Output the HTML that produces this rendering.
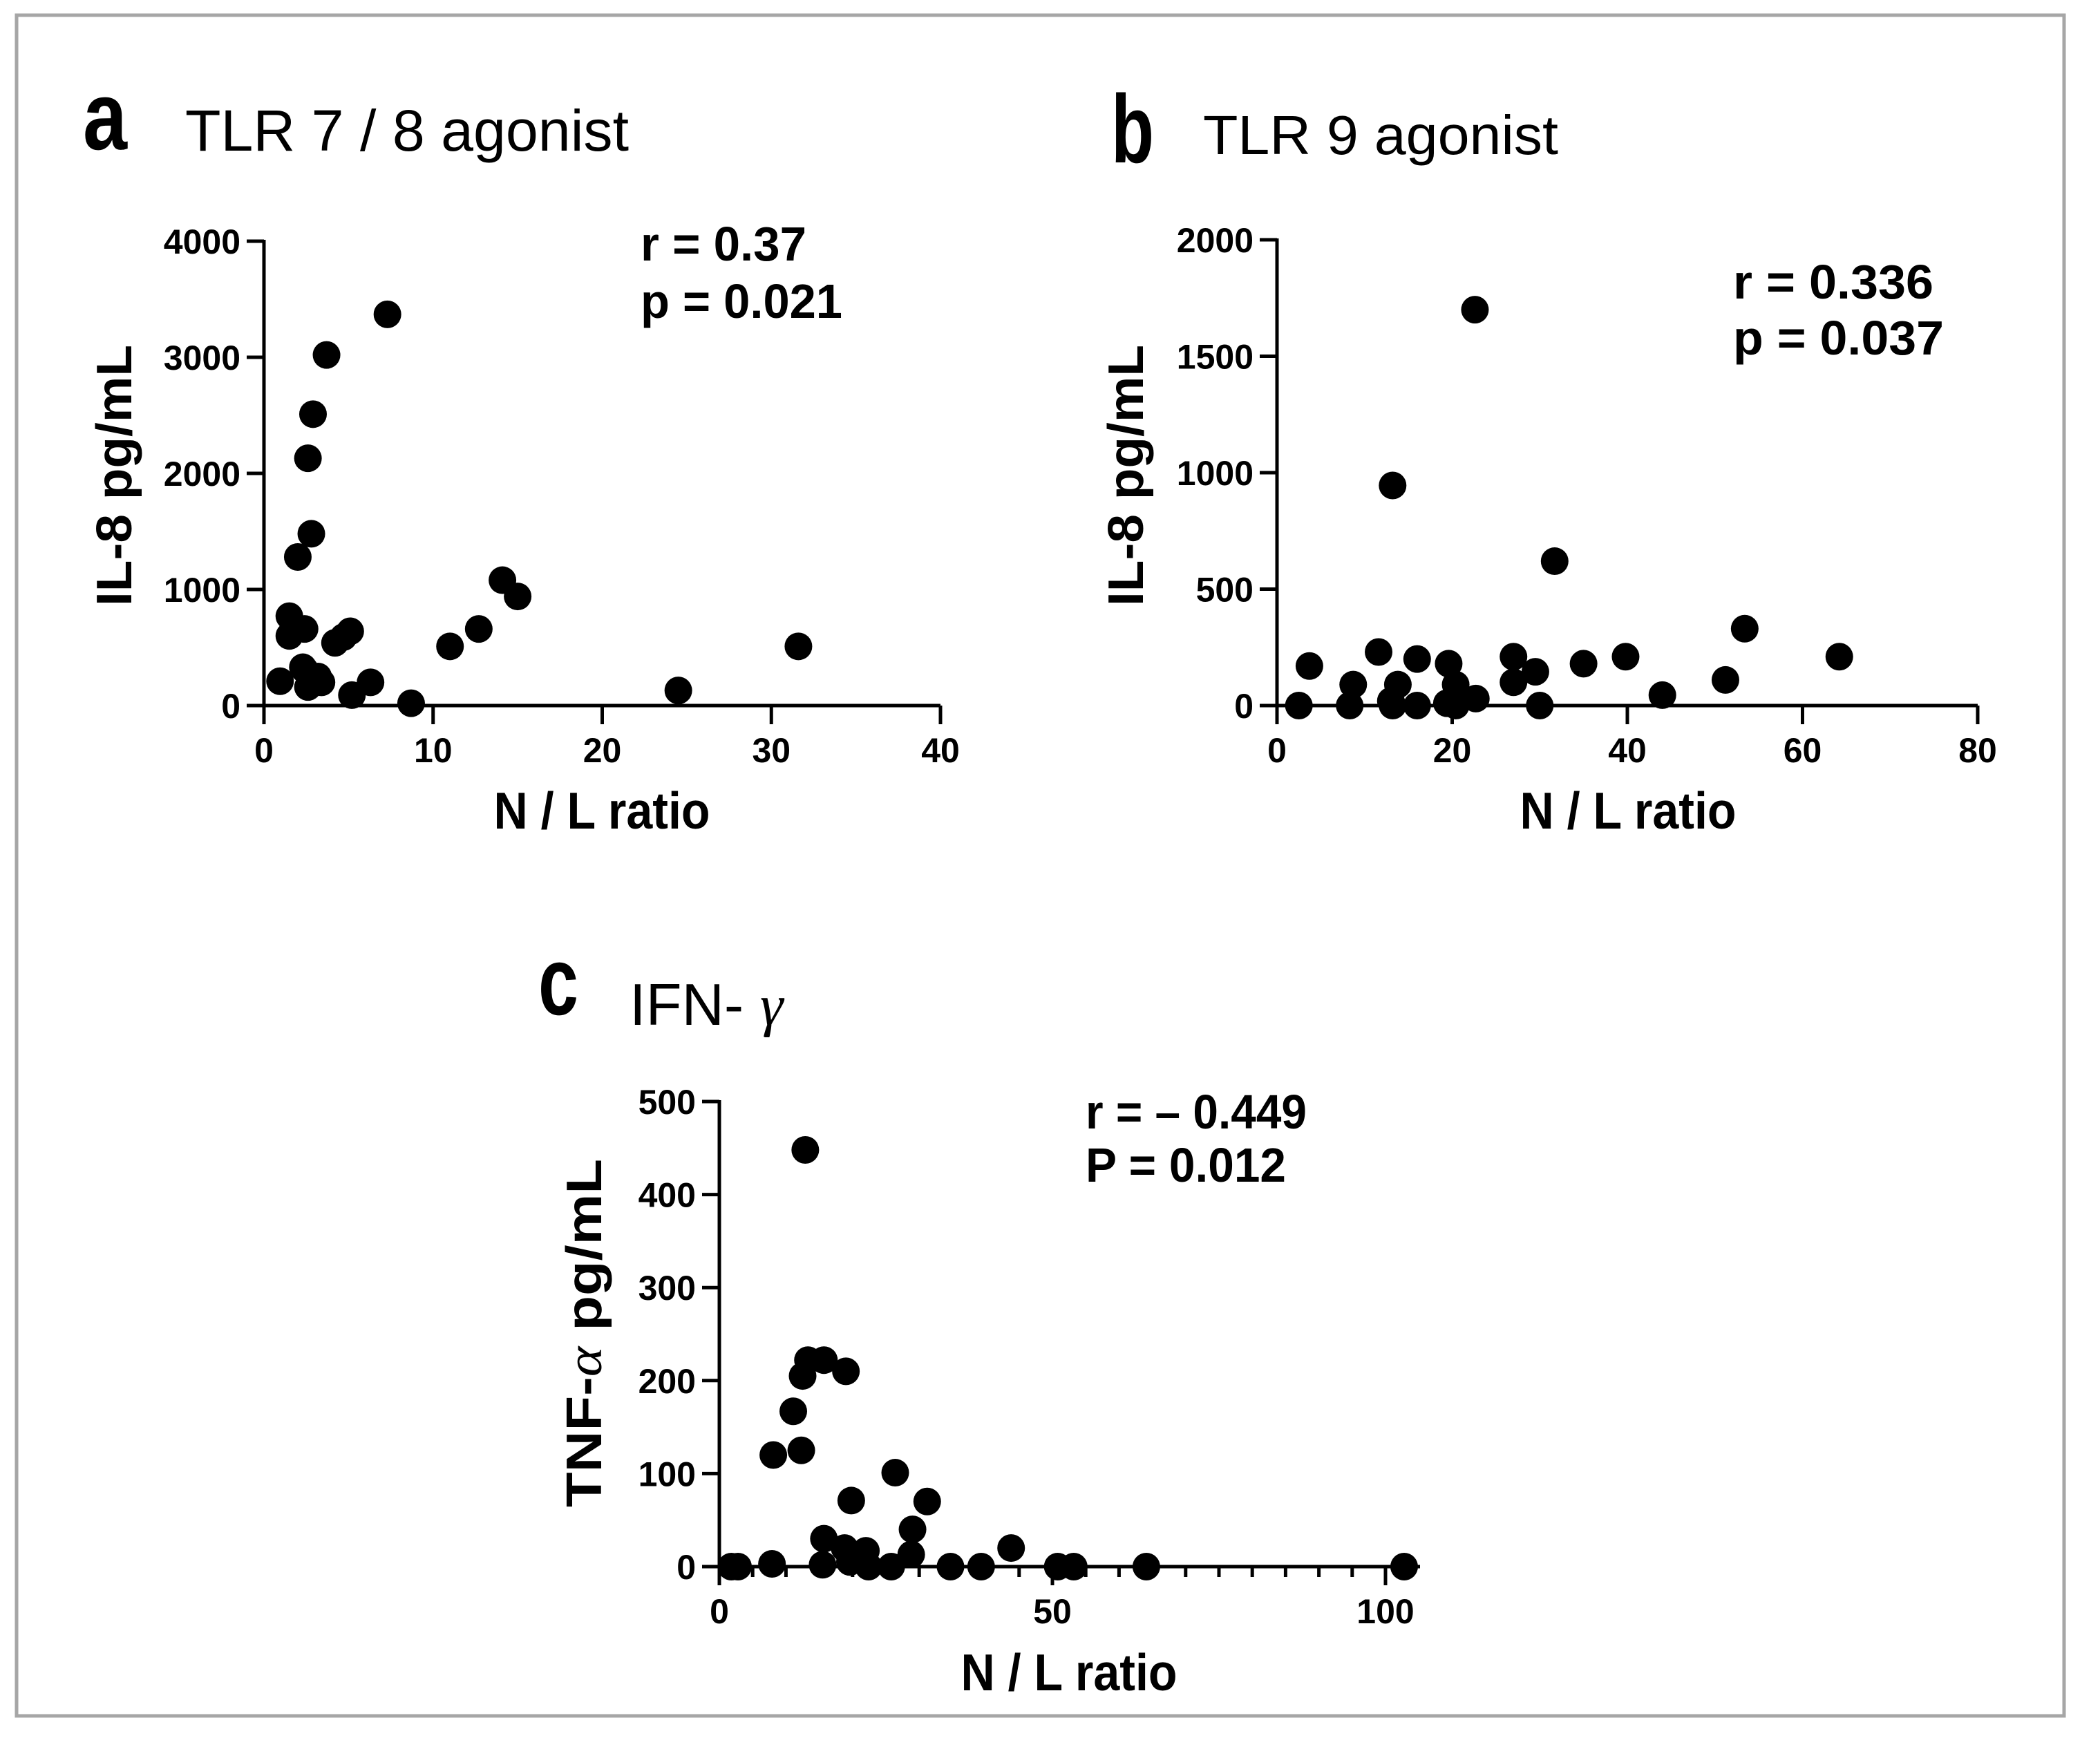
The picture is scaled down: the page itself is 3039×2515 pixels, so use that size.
<!DOCTYPE html>
<html><head><meta charset="utf-8"><style>html,body{margin:0;padding:0;background:#fff}svg{display:block}</style></head>
<body>
<svg id="fig" width="3039" height="2515" viewBox="0 0 3039 2515" xmlns="http://www.w3.org/2000/svg" font-family="'Liberation Sans', sans-serif">
<rect x="24" y="22" width="2963" height="2461" fill="#fff" stroke="#a6a6a6" stroke-width="5"/>
<g id="pa"></g>
<g id="pb"></g>
<g id="pc"></g>
</svg>
<script>
// Panel a data
const aX = [0.95,1.5,1.5,2.0,2.4,2.6,2.8,2.9,3.7,7.3,2.4,2.6,3.2,3.4,4.2,4.7,5.1,5.2,6.3,8.7,11,12.7,14.1,15,24.5,31.6,2.3];
const aY = [210,770,600,1280,660,2130,1480,2510,3020,3370,310,160,250,200,540,590,640,90,200,20,510,660,1080,940,130,510,330];
const aYTicks = [0,1000,2000,3000,4000];
const aXTicks = [0,10,20,30,40];
// Panel b data
const bX = [2.5,3.7,8.7,8.3,11.6,13,13.2,13.8,16,16,19.6,19.4,20.4,20.4,22.6,13.2,22.7,27,27,29.5,30,31.7,35,39.8,44,51.2,53.4,64.2];
const bY = [0,170,90,0,230,20,0,90,200,0,180,10,90,0,1700,945,30,210,100,145,0,620,180,210,45,110,330,210];
const bYTicks = [0,500,1000,1500,2000];
const bXTicks = [0,20,40,60,80];
// Panel c data
const cX = [1.8,2.8,7.9,8.1,11.1,12.3,12.5,12.9,13.3,15.7,15.7,15.5,19,19.8,18.8,19.6,22,22.4,26.4,25.8,29,28.8,31.2,34.7,39.3,43.8,50.8,53.2,64.1,102.8];
const cY = [0,0,3,120,167,125,205,448,222,222,30,2,210,71,20,5,17,0,101,0,40,13,70,0,0,20,0,0,0,0];
const cYTicks = [0,100,200,300,400,500];
const cXTicks = [0,50,100];
const cXMinor = [5,10,15,20,25,30,35,40,45,55,60,65,70,75,80,85,90,95];

const NS = "http://www.w3.org/2000/svg";
function mk(tag, attrs, parent, txt){
  const e = document.createElementNS(NS, tag);
  for (const k in attrs) e.setAttribute(k, attrs[k]);
  if (txt !== undefined) e.textContent = txt;
  parent.appendChild(e);
  return e;
}
function panel(g, cfg){
  const sx = v => cfg.x0 + (v - cfg.xmin) / (cfg.xmax - cfg.xmin) * (cfg.x1 - cfg.x0);
  const sy = v => cfg.y0 - (v - cfg.ymin) / (cfg.ymax - cfg.ymin) * (cfg.y0 - cfg.y1);
  const yl = mk('line', {x1:cfg.x0, y1:cfg.y1-2, x2:cfg.x0, y2:cfg.y0+27, stroke:'#000','stroke-width':5}, g);
  
  
  const xl = mk('line', {x1:cfg.x0-25, y1:cfg.y0, x2:cfg.xend, y2:cfg.y0, stroke:'#000','stroke-width':5}, g);
  
  
  cfg.yt.forEach(v => {
    const t = mk('line', {x1:cfg.x0-25, y1:sy(v), x2:cfg.x0, y2:sy(v), stroke:'#000','stroke-width':5}, g);
    
    
    const l = mk('text', {x:cfg.x0-34, y:sy(v)+18, 'text-anchor':'end','font-size':50,'font-weight':'bold'}, g, String(v));
    
    
  });
  cfg.xt.forEach(v => {
    const t = mk('line', {x1:sx(v), y1:cfg.y0, x2:sx(v), y2:cfg.y0+27, stroke:'#000','stroke-width':5}, g);
    
    
    const l = mk('text', {x:sx(v), y:cfg.y0+82, 'text-anchor':'middle','font-size':50,'font-weight':'bold'}, g, String(v));
    
    
  });
  (cfg.minor||[]).forEach(v => {
    const t = mk('line', {x1:sx(v), y1:cfg.y0, x2:sx(v), y2:cfg.y0+15, stroke:'#000','stroke-width':5}, g);
    
    
  });
  cfg.xs.forEach((v,i) => {
    const c = mk('circle', {cx:sx(v), cy:sy(cfg.ys[i]), r:20, fill:'#000'}, g);
    
    
  });
}
panel(document.getElementById('pa'), {x0:382,x1:1361,xmin:0,xmax:40,y0:1021,y1:349,ymin:0,ymax:4000,xend:1361,yt:aYTicks,xt:aXTicks,xs:aX,ys:aY});
panel(document.getElementById('pb'), {x0:1848,x1:2862,xmin:0,xmax:80,y0:1021,y1:347,ymin:0,ymax:2000,xend:2862,yt:bYTicks,xt:bXTicks,xs:bX,ys:bY});
panel(document.getElementById('pc'), {x0:1041,x1:2005,xmin:0,xmax:100,y0:2267,y1:1594,ymin:0,ymax:500,xend:2055,yt:cYTicks,xt:cXTicks,minor:cXMinor,xs:cX,ys:cY});
</script>
<svg style="position:absolute;left:0;top:0" width="3039" height="2515" font-family="'Liberation Sans', sans-serif">
<text x="120" y="216" font-size="140" font-weight="bold" textLength="64" lengthAdjust="spacingAndGlyphs">a</text>
<text x="268" y="218" font-size="84" textLength="642" lengthAdjust="spacingAndGlyphs">TLR 7 / 8 agonist</text>
<text x="927" y="377" font-size="70" font-weight="bold" textLength="240" lengthAdjust="spacingAndGlyphs">r = 0.37</text>
<text x="927" y="460" font-size="70" font-weight="bold" textLength="292" lengthAdjust="spacingAndGlyphs">p = 0.021</text>
<text transform="translate(190,688) rotate(-90)" text-anchor="middle" font-size="72" font-weight="bold" textLength="378" lengthAdjust="spacingAndGlyphs">IL-8 pg/mL</text>
<text x="871" y="1199" text-anchor="middle" font-size="75" font-weight="bold" textLength="313" lengthAdjust="spacingAndGlyphs">N / L ratio</text>

<text x="1608" y="235" font-size="140" font-weight="bold" textLength="62" lengthAdjust="spacingAndGlyphs">b</text>
<text x="1741" y="223" font-size="80" textLength="514" lengthAdjust="spacingAndGlyphs">TLR 9 agonist</text>
<text x="2508" y="432" font-size="70" font-weight="bold" textLength="290" lengthAdjust="spacingAndGlyphs">r = 0.336</text>
<text x="2508" y="513" font-size="70" font-weight="bold" textLength="305" lengthAdjust="spacingAndGlyphs">p = 0.037</text>
<text transform="translate(1654,688) rotate(-90)" text-anchor="middle" font-size="72" font-weight="bold" textLength="378" lengthAdjust="spacingAndGlyphs">IL-8 pg/mL</text>
<text x="2356" y="1199" text-anchor="middle" font-size="75" font-weight="bold" textLength="313" lengthAdjust="spacingAndGlyphs">N / L ratio</text>

<text x="779" y="1468" font-size="140" font-weight="bold" textLength="58" lengthAdjust="spacingAndGlyphs">c</text>
<text x="911" y="1483" font-size="85">IFN- <tspan font-family="'Liberation Serif', serif" font-style="italic">γ</tspan></text>
<text x="1571" y="1633" font-size="70" font-weight="bold" textLength="320" lengthAdjust="spacingAndGlyphs">r = – 0.449</text>
<text x="1571" y="1710" font-size="70" font-weight="bold" textLength="290" lengthAdjust="spacingAndGlyphs">P = 0.012</text>
<text transform="translate(870,1929) rotate(-90)" text-anchor="middle" font-size="72" font-weight="bold" textLength="504" lengthAdjust="spacingAndGlyphs">TNF-<tspan font-family="'Liberation Serif', serif" font-weight="normal" font-style="italic">α</tspan> pg/mL</text>
<text x="1547" y="2446" text-anchor="middle" font-size="75" font-weight="bold" textLength="313" lengthAdjust="spacingAndGlyphs">N / L ratio</text>
</svg>
</body></html>
